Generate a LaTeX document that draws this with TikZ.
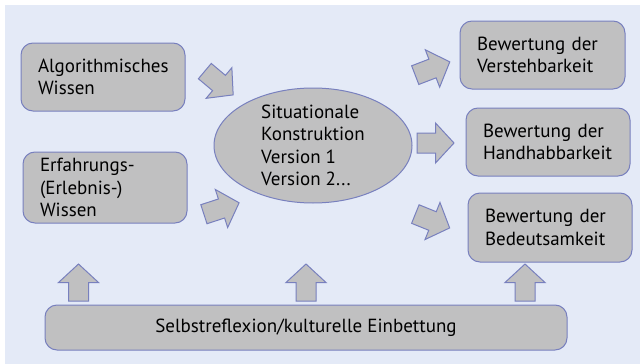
\documentclass[tikz,border=0pt]{standalone}
\usepackage{fontspec}
\setmainfont{PT Sans}
\usetikzlibrary{shapes.geometric}
\definecolor{bgblue}{HTML}{E4EAF7}
\definecolor{boxgrey}{HTML}{C0C0C1}
\definecolor{boxline}{HTML}{7880BE}
\tikzset{
  box/.style={draw=boxline,fill=boxgrey,line width=1pt,rounded corners=12pt,
    align=left,inner sep=0pt,font=\fontsize{19}{22.5}\selectfont},
  pics/barrow/.style={code={
    \draw[draw=boxline,fill=boxgrey,line width=1pt,line join=miter]
      (-18.5,-10) -- (0,-10) -- (0,-20) -- (18.5,0) -- (0,20) -- (0,10) -- (-18.5,10) -- cycle;}}
}
\begin{document}
\begin{tikzpicture}[x=1pt,y=-1pt]
  \useasboundingbox (0,0) rectangle (640,364);
  \fill[bgblue] (5,5) rectangle (640,364);
  % left
  \node[box,minimum width=164pt,minimum height=68pt,text width=130pt] (alg) at (103,77) {Algorithmisches\\Wissen};
  \node[box,minimum width=164pt,minimum height=71pt,text width=130pt] (erf) at (105,187.5) {Erfahrungs-\\(Erlebnis-)\\Wissen};
  % middle
  \node[box,ellipse,minimum width=198pt,minimum height=115pt] (sit) at (313,145.5) {Situationale\\Konstruktion\\Version 1\\Version 2...};
  % right
  \node[box,minimum width=165pt,minimum height=68pt,text width=131pt] (verst) at (542.5,55) {Bewertung der\\Verstehbarkeit};
  \node[box,minimum width=164pt,minimum height=68pt,text width=130pt] (hand) at (548,142) {Bewertung der\\Handhabbarkeit};
  \node[box,minimum width=164pt,minimum height=69pt,text width=130pt] (bed) at (550,227.5) {Bewertung der\\Bedeutsamkeit};
  % bottom
  \node[box,align=center,minimum width=522pt,minimum height=45pt] (selbst) at (306,327.5) {Selbstreflexion/kulturelle Einbettung};
  % block arrows
  \pic[rotate=-40] at (219,83) {barrow};
  \pic[rotate=18] at (221.5,208.5) {barrow};
  \pic[rotate=21] at (432.5,68.5) {barrow};
  \pic at (435.5,143) {barrow};
  \pic[rotate=-22] at (432.5,221) {barrow};
  \pic[rotate=90] at (78.5,282.5) {barrow};
  \pic[rotate=90] at (306,282.5) {barrow};
  \pic[rotate=90] at (525,282.5) {barrow};
\end{tikzpicture}
\end{document}
